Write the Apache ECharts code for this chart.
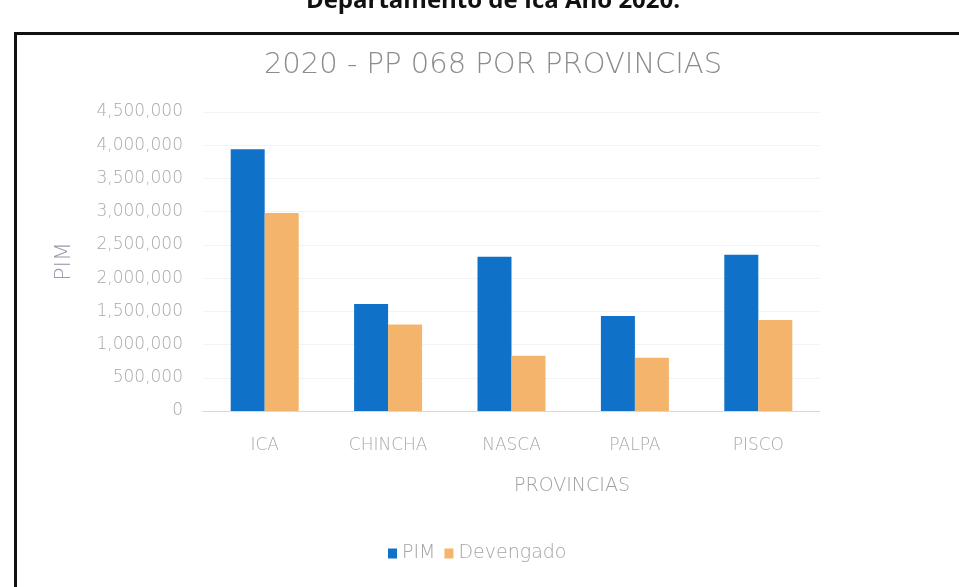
<!DOCTYPE html>
<html>
<head>
<meta charset="utf-8">
<script src="https://cdn.jsdelivr.net/npm/echarts@6/dist/echarts.min.js"></script>
<style>
  html, body { margin: 0; padding: 0; background: #fff; }
  #chart { width: 959px; height: 587px; }
</style>
</head>
<body>
<div id="chart"></div>
<script>
const provincias = ['ICA', 'CHINCHA', 'NASCA', 'PALPA', 'PISCO']
const pim = [3940000, 1610000, 2320000, 1430000, 2350000]
const devengado = [2980000, 1300000, 830000, 800000, 1370000]
const yTicks = { min: 0, max: 4500000, step: 500000 }

// the scan is a bit stretched sideways, so a wide light face reads closest
const FONT = '"DejaVu Sans", "Open Sans", sans-serif'
const fmt = (v) => String(v).replace(/\B(?=(\d{3})+(?!\d))/g, ',')

const chart = echarts.init(document.getElementById('chart'), null, { renderer: 'canvas' })
chart.setOption({
  backgroundColor: '#fff',
  animation: false,
  title: {
    text: '2020 - PP 068 POR PROVINCIAS',
    left: 488, top: 46, textAlign: 'center',
    textStyle: { color: '#8c8c8c', fontSize: 29, fontWeight: 200, fontFamily: FONT }
  },
  graphic: [
    {
      type: 'text', x: 493, y: -11,
      style: {
        text: 'Departamento de Ica Año 2020.', fill: '#111', align: 'center',
        font: 'bold 24px "Open Sans", sans-serif'
      }
    },
    {
      type: 'rect', left: 13, top: 31,
      shape: { width: 1000, height: 700 },
      style: { fill: 'none', stroke: '#111', lineWidth: 3 }
    },
    {
      type: 'text', x: 572, y: 486,
      style: {
        text: 'PROVINCIAS', fill: '#a0a0a0', align: 'center', verticalAlign: 'middle',
        font: '200 19px "DejaVu Sans", sans-serif'
      }
    }
  ],
  legend: {
    top: 539, left: 383,
    itemWidth: 9, itemHeight: 10, itemGap: 9,
    icon: 'rect',
    textStyle: { color: '#a4a4a4', fontSize: 19, fontWeight: 200, fontFamily: FONT },
    data: ['PIM', 'Devengado']
  },
  grid: { left: 203, right: 139, top: 112, bottom: 176 },
  xAxis: {
    type: 'category',
    data: provincias,
    axisLine: { lineStyle: { color: '#d8d8d8' } },
    axisTick: { show: false },
    axisLabel: { color: '#a8a8a8', fontSize: 17, fontWeight: 200, margin: 26, fontFamily: FONT }
  },
  yAxis: {
    type: 'value',
    min: yTicks.min, max: yTicks.max, interval: yTicks.step,
    name: 'PIM',
    nameLocation: 'middle', nameGap: 128, nameRotate: 90,
    nameTextStyle: { color: '#9a9aaa', fontSize: 22, fontWeight: 200, fontFamily: FONT },
    axisLine: { show: false },
    axisTick: { show: false },
    axisLabel: { color: '#a8a8a8', fontSize: 17, fontWeight: 200, margin: 20, fontFamily: FONT, formatter: fmt },
    splitLine: { lineStyle: { color: '#f3f3f3' } }
  },
  series: [
    {
      name: 'PIM', type: 'bar', data: pim,
      barWidth: 34, barGap: '0%',
      itemStyle: { color: '#1071c8' }
    },
    {
      name: 'Devengado', type: 'bar', data: devengado,
      barWidth: 34,
      itemStyle: { color: '#f5b46c' }
    }
  ]
})
</script>
</body>
</html>
